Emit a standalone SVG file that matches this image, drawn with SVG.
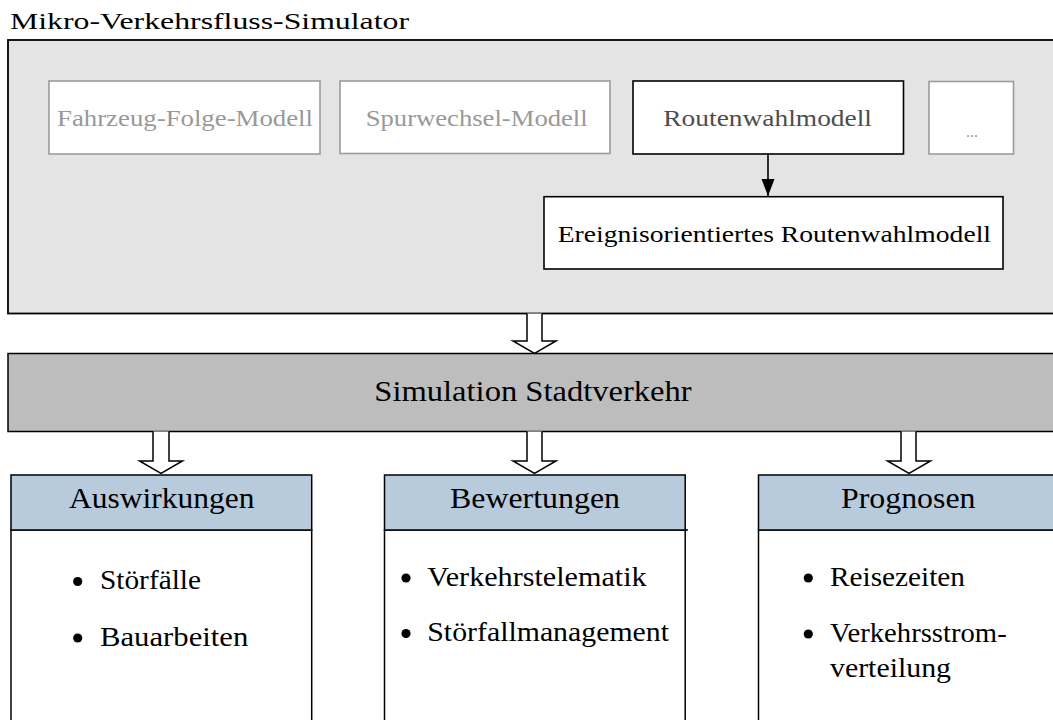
<svg xmlns="http://www.w3.org/2000/svg" width="1053" height="720" viewBox="0 0 1053 720">
<style>
text{font-family:"Liberation Serif","Times New Roman",serif;fill:#000}
.g{fill:#999}
.mid{text-anchor:middle}
.gbox{fill:#fff;stroke:#9b9b9b;stroke-width:1.6}
.bbox{fill:#fff;stroke:#000;stroke-width:1.6}
.hdr{fill:#b8cbdc;stroke:#000;stroke-width:1.5}
.body{fill:#fff;stroke:#000;stroke-width:1.5}
.hollow{fill:#fff;stroke:#000;stroke-width:1.5;stroke-linejoin:miter}
.t24{font-size:24px}
.t29{font-size:29px}
.t27{font-size:27px}
</style>
<defs>
<marker id="ah" markerWidth="18" markerHeight="14" refX="17" refY="6.5" orient="auto" markerUnits="userSpaceOnUse">
<path d="M0,0 L17,6.5 L0,13 z" fill="#000"/>
</marker>
</defs>
<rect width="1053" height="720" fill="#fff"/>

<text id="title" x="10" y="28.5" class="t24" textLength="399" lengthAdjust="spacingAndGlyphs">Mikro-Verkehrsfluss-Simulator</text>

<g id="simulator">
<rect x="8" y="40" width="1060" height="273.5" fill="#e4e4e4" stroke="#000" stroke-width="1.8"/>
</g>

<g id="fahrzeug">
<rect class="gbox" x="49" y="81" width="271" height="73"/>
<text class="t24 g" x="57" y="126" textLength="256" lengthAdjust="spacingAndGlyphs">Fahrzeug-Folge-Modell</text>
</g>
<g id="spurwechsel">
<rect class="gbox" x="340" y="81" width="270" height="72.5"/>
<text class="t24 g" x="365.7" y="125.5" textLength="222" lengthAdjust="spacingAndGlyphs">Spurwechsel-Modell</text>
</g>
<g id="routenwahl">
<rect class="bbox" x="633" y="81" width="270.5" height="73"/>
<text class="t24" style="fill:#4d4d4d" x="663.3" y="125.5" textLength="208.7" lengthAdjust="spacingAndGlyphs">Routenwahlmodell</text>
</g>
<g id="more">
<rect class="gbox" x="929" y="81.5" width="84.5" height="72.5"/>
<text class="g mid" x="972" y="137" font-size="16">...</text>
</g>
<g id="ereignis">
<rect class="bbox" x="544" y="196.7" width="459" height="72.3"/>
<text class="t24" x="557.7" y="241.7" textLength="433.3" lengthAdjust="spacingAndGlyphs">Ereignisorientiertes Routenwahlmodell</text>
</g>

<g id="simulation">
<rect x="8" y="353.5" width="1060" height="78" fill="#bdbdbd" stroke="#000" stroke-width="1.5"/>
<text class="t29" x="374.3" y="401" textLength="317.4" lengthAdjust="spacingAndGlyphs">Simulation Stadtverkehr</text>
</g>

<g id="auswirkungen">
<rect class="body" x="11" y="530" width="300.7" height="200"/>
<rect class="hdr" x="11" y="475" width="300.7" height="55"/>
<text class="t29" x="69" y="507.5" textLength="185.5" lengthAdjust="spacingAndGlyphs">Auswirkungen</text>
<circle cx="77.7" cy="581.5" r="4.6"/>
<text class="t27" x="100" y="589" textLength="101" lengthAdjust="spacingAndGlyphs">Störfälle</text>
<circle cx="77.7" cy="638" r="4.6"/>
<text class="t27" x="100" y="646" textLength="148.3" lengthAdjust="spacingAndGlyphs">Bauarbeiten</text>
</g>

<g id="bewertungen">
<rect class="body" x="384.5" y="530" width="300.7" height="200"/>
<rect class="hdr" x="384.5" y="475" width="300.7" height="55"/>
<line x1="685" y1="530" x2="688" y2="530" stroke="#000" stroke-width="1.5"/>
<text class="t29" x="450" y="507.5" textLength="170" lengthAdjust="spacingAndGlyphs">Bewertungen</text>
<circle cx="406" cy="578" r="4.6"/>
<text class="t27" x="427.3" y="585.7" textLength="219.4" lengthAdjust="spacingAndGlyphs">Verkehrstelematik</text>
<circle cx="406" cy="633.5" r="4.6"/>
<text class="t27" x="427.3" y="641" textLength="241.7" lengthAdjust="spacingAndGlyphs">Störfallmanagement</text>
</g>

<g id="prognosen">
<rect class="body" x="758.5" y="530" width="310" height="200"/>
<rect class="hdr" x="758.5" y="475" width="310" height="55"/>
<text class="t29" x="841" y="507.5" textLength="134.5" lengthAdjust="spacingAndGlyphs">Prognosen</text>
<circle cx="808.3" cy="578" r="4.6"/>
<text class="t27" x="830" y="585.7" textLength="135" lengthAdjust="spacingAndGlyphs">Reisezeiten</text>
<circle cx="808.3" cy="634" r="4.6"/>
<text class="t27" x="830" y="641.7" textLength="176.7" lengthAdjust="spacingAndGlyphs">Verkehrsstrom-</text>
<text class="t27" x="830" y="677" textLength="121" lengthAdjust="spacingAndGlyphs">verteilung</text>
</g>

<g id="connectors">
<line x1="768" y1="154" x2="768" y2="196" stroke="#000" stroke-width="1.6" marker-end="url(#ah)"/>
<path class="hollow" d="M527,313.5 V341 H513 L534.5,353.5 L556,341 H542 V313.5"/>
<path class="hollow" d="M153,431.5 V461 H139.5 L161,473.5 L182.5,461 H169 V431.5"/>
<path class="hollow" d="M527,431.5 V461 H513 L534.5,473.5 L556,461 H542 V431.5"/>
<path class="hollow" d="M901,431.5 V461 H887.5 L909,473.5 L930.5,461 H916 V431.5"/>
</g>
</svg>
